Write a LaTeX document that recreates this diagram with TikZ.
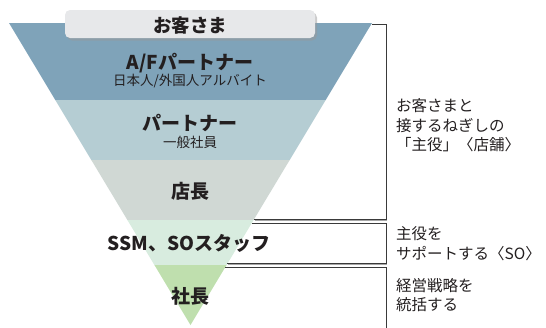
\documentclass[tikz,border=0pt]{standalone}
\usepackage{fontspec}
\newfontfamily\jp{Noto Sans CJK JP}
\usetikzlibrary{shadows}
\definecolor{ink}{HTML}{231F20}
\definecolor{bandA}{HTML}{7FA3B9}
\definecolor{bandB}{HTML}{B5CDD3}
\definecolor{bandC}{HTML}{D0D8D4}
\definecolor{bandD}{HTML}{D8ECDF}
\definecolor{bandE}{HTML}{BFDFAE}
\definecolor{boxc}{HTML}{E7E8EA}
\definecolor{brkc}{HTML}{3A3A3A}
\begin{document}
\begin{tikzpicture}[x=1pt,y=-1pt,
  lab/.style={font=\jp\bfseries\fontsize{19}{21}\selectfont, text=ink, inner sep=0},
  sub/.style={font=\jp\fontsize{13.5}{15}\selectfont, text=ink, inner sep=0},
  note/.style={font=\jp\fontsize{15.5}{19.5}\selectfont, text=ink, align=left, anchor=west, inner sep=0},
  brk/.style={draw=brkc, line width=0.8pt},
  brkshadow/.style={draw=black!35, line width=0.8pt}]
\useasboundingbox (0,0) rectangle (546,327);
% pyramid bands
\fill[bandA] (9,23) -- (372,23) -- (325.7,100) -- (55.3,100) -- cycle;
\fill[bandB] (55.3,100) -- (325.7,100) -- (289.7,160) -- (91.3,160) -- cycle;
\fill[bandC] (91.3,160) -- (289.7,160) -- (253.6,220) -- (127.4,220) -- cycle;
\fill[bandD] (127.4,220) -- (253.6,220) -- (226.6,265) -- (154.4,265) -- cycle;
\fill[bandE] (154.4,265) -- (226.6,265) -- (190.5,325) -- cycle;
% customer box
\node[draw=none, fill=boxc, rounded corners=5pt, minimum width=250pt, minimum height=28pt,
  drop shadow={shadow xshift=2pt, shadow yshift=-2.5pt, fill=black!40}] (cust) at (190,24) {};
\node[font=\jp\bfseries\fontsize{18.5}{20}\selectfont, text=ink, inner sep=0] (custt) at (190,25) {お客さま};
% labels
\node[lab] (af) at (190,63) {A/Fパートナー};
\node[sub] (afs) at (190,81.5) {日本人/外国人アルバイト};
\node[lab] (pt) at (190,123) {パートナー};
\node[sub] (pts) at (190,142.5) {一般社員};
\node[lab] (tc) at (190,191) {店長};
\node[lab] (ssm) at (189,243) {SSM、SOスタッフ};
\node[lab] (ceo) at (190,296) {社長};
% bracket coordinates
\coordinate (b1a) at (372,24);
\coordinate (b1b) at (386,24);
\coordinate (b1c) at (386,219.5);
\coordinate (b1d) at (254,219.5);
\coordinate (b2a) at (251.8,223);
\coordinate (b2b) at (386,223);
\coordinate (b2c) at (386,263.5);
\coordinate (b2d) at (227,263.5);
\coordinate (b3a) at (225.4,267);
\coordinate (b3b) at (386,267);
\coordinate (b3c) at (386,328);
% bracket shadows
\draw[brkshadow] ([shift={(0.6,1.3)}]b1d) -- ([shift={(0.6,1.3)}]b1c);
\draw[brkshadow] ([shift={(0.6,1.3)}]b2d) -- ([shift={(0.6,1.3)}]b2c);
% brackets
\draw[brk] (b1a) -- (b1b) -- (b1c) -- (b1d);
\draw[brk] (b2a) -- (b2b) -- (b2c) -- (b2d);
\draw[brk] (b3a) -- (b3b) -- (b3c);
% notes
\node[note] (n1) at (396,125.5) {お客さまと\\接するねぎしの\\「主役」〈店舗〉};
\node[note] (n2) at (396,243.5) {主役を\\サポートする〈SO〉};
\node[note] (n3) at (396,295) {経営戦略を\\統括する};
\end{tikzpicture}
\end{document}
